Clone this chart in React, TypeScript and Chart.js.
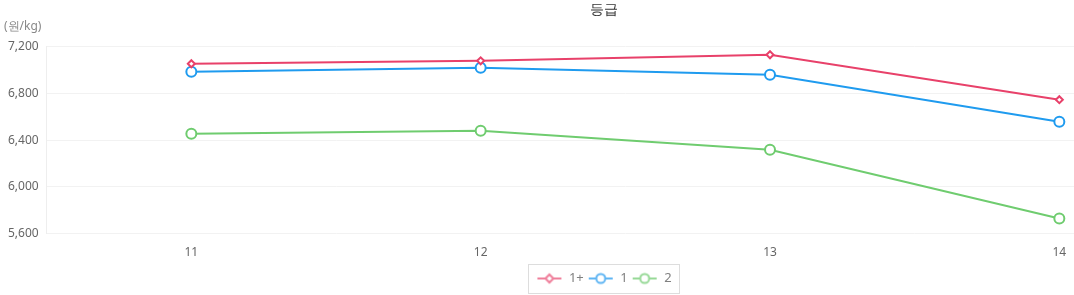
import React, { useEffect, useRef } from "react";
import { Chart, registerables } from "chart.js";

Chart.register(...registerables);

const categories = ["11", "12", "13", "14"];
const seriesNames = ["1+", "1", "2"];
const grade1Plus = [7055, 7080, 7132, 6747];
const grade1 = [6986, 7020, 6960, 6558];
const grade2 = [6456, 6481, 6319, 5729];
const yTicks = [5600, 6000, 6400, 6800, 7200];
const titleText = "등급";
const unitText = "(원/kg)";

const colors = ["#e8416a", "#1f9bef", "#6fcc6f"];
const legendColors = ["#ef7e9a", "#5fb5f3", "#97d997"];
const pointStyles = ["rectRot", "circle", "circle"];

function makeIcon(color: string, style: string): HTMLCanvasElement {
  const c = document.createElement("canvas");
  c.width = 26;
  c.height = 14;
  const ctx = c.getContext("2d")!;
  ctx.strokeStyle = color;
  ctx.lineWidth = 2;
  ctx.beginPath();
  ctx.moveTo(1, 7);
  ctx.lineTo(25, 7);
  ctx.stroke();
  ctx.fillStyle = "#fff";
  ctx.beginPath();
  if (style === "rectRot") {
    ctx.moveTo(13, 3);
    ctx.lineTo(17, 7);
    ctx.lineTo(13, 11);
    ctx.lineTo(9, 7);
    ctx.closePath();
  } else {
    ctx.arc(13, 7, 4.5, 0, Math.PI * 2);
  }
  ctx.fill();
  ctx.stroke();
  return c;
}

export default function App() {
  const ref = useRef<HTMLCanvasElement | null>(null);
  useEffect(() => {
    document.body.style.margin = "0";
    const data = [grade1Plus, grade1, grade2];
    const icons = seriesNames.map((_, i) => makeIcon(legendColors[i], pointStyles[i]));
    const extras = {
      id: "extras",
      afterDraw(chart: any) {
        const ctx = chart.ctx;
        ctx.save();
        ctx.font = "12px 'Noto Sans', sans-serif";
        ctx.fillStyle = "#888";
        ctx.textAlign = "left";
        ctx.textBaseline = "middle";
        ctx.fillText(unitText, 4, 27);
        const hb = chart.legend?.legendHitBoxes || [];
        if (hb.length) {
          const l = Math.min(...hb.map((h: any) => h.left)) - 8;
          const r = Math.max(...hb.map((h: any) => h.left + h.width)) + 8;
          const t = Math.min(...hb.map((h: any) => h.top)) - 8;
          const b = Math.max(...hb.map((h: any) => h.top + h.height)) + 8;
          ctx.strokeStyle = "#dddddd";
          ctx.lineWidth = 1;
          ctx.strokeRect(Math.round(l) + 0.5, Math.round(t) + 0.5, Math.round(r - l), Math.round(b - t));
        }
        ctx.restore();
      },
    };
    const chart = new Chart(ref.current!, {
      type: "line",
      data: {
        labels: categories,
        datasets: seriesNames.map((name, i) => ({
          label: name,
          data: data[i],
          borderColor: colors[i],
          backgroundColor: "#ffffff",
          pointBackgroundColor: "#ffffff",
          pointBorderColor: colors[i],
          pointStyle: pointStyles[i] as any,
          pointRadius: i === 0 ? 3.5 : 5,
          pointBorderWidth: 2,
          borderWidth: 2,
          tension: 0,
        })),
      },
      plugins: [extras],
      options: {
        animation: false,
        responsive: false,
        layout: { padding: { left: 0, right: 3, top: 0, bottom: 0 } },
        plugins: {
          title: {
            display: true,
            text: titleText,
            color: "#333",
            font: { size: 14, family: "'Noto Sans', sans-serif", weight: "normal" },
            padding: { top: 2, bottom: 28 },
          },
          legend: {
            position: "bottom",
            labels: {
              usePointStyle: true,
              pointStyleWidth: 26,
              boxHeight: 12,
              padding: 4,
              color: "#808080",
              font: { size: 13, family: "'Noto Sans', sans-serif" },
              generateLabels: () =>
                seriesNames.map((n, i) => ({
                  text: n,
                  pointStyle: icons[i],
                  fillStyle: "#fff",
                  strokeStyle: legendColors[i],
                  lineWidth: 0,
                  datasetIndex: i,
                  hidden: false,
                  fontColor: "#808080",
                })),
            },
          },
          tooltip: { enabled: false },
        },
        scales: {
          x: {
            offset: true,
            grid: { display: false, drawTicks: false },
            border: { display: false },
            ticks: { color: "#666", font: { size: 12, family: "'Noto Sans', sans-serif" }, padding: 12 },
            afterFit: (scale: any) => {
              scale.height -= 4;
            },
          },
          y: {
            min: 5600,
            max: 7200,
            afterBuildTicks: (scale: any) => {
              scale.ticks = yTicks.map((v) => ({ value: v }));
            },
            grid: { color: "#f2f2f2", drawTicks: false },
            border: { display: true, color: "#eeeeee" },
            ticks: { color: "#666", font: { size: 12, family: "'Noto Sans', sans-serif" }, padding: 8 },
          },
        },
      },
    } as any);
    return () => chart.destroy();
  }, []);
  return (
    <div style={{ position: "fixed", left: 0, top: 0, width: 1074, height: 295, overflow: "hidden" }}>
      <canvas ref={ref} width={1211} height={295} style={{ display: "block" }} />
    </div>
  );
}
